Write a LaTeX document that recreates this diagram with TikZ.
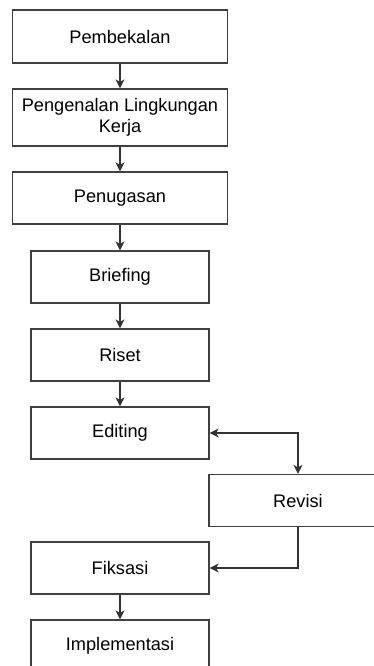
\documentclass[tikz,border=0pt]{standalone}
\usepackage{fontspec}
\setmainfont{Liberation Sans}
\usetikzlibrary{arrows.meta}
\begin{document}
\begin{tikzpicture}[x=1pt,y=-1pt,
  box/.style={draw=black!75, line width=1.2pt, rectangle, inner sep=0pt, align=center,
     font=\fontsize{18.2}{21}\selectfont, text=black},
  wide/.style={box, minimum width=215pt},
  narrow/.style={box, minimum width=178pt},
  tip/.tip={Stealth[length=9pt,width=9pt,inset=2.5pt]},
  conn/.style={draw=black!80, line width=1.2pt, -tip}]
\useasboundingbox (0,0) rectangle (374,666);
\node[wide, minimum height=53pt] (pem) at (120,36.5) {Pembekalan};
\node[wide, minimum height=57pt] (pen) at (120,117.5) {Pengenalan Lingkungan\\Kerja};
\node[wide, minimum height=52pt] (pug) at (120,198) {Penugasan};
\node[narrow, minimum height=52pt] (bri) at (120,277) {Briefing};
\node[narrow, minimum height=52pt] (ris) at (120,355) {Riset};
\node[narrow, minimum height=52pt] (edi) at (120,433) {Editing};
\node[narrow, minimum height=52pt] (rev) at (298,500.5) {Revisi};
\node[narrow, minimum height=52pt] (fik) at (120,568) {Fiksasi};
\node[narrow, minimum height=52pt] (imp) at (120,646) {Implementasi};
\draw[conn] (pem) -- (pen);
\draw[conn] (pen) -- (pug);
\draw[conn] (pug) -- (bri);
\draw[conn] (bri) -- (ris);
\draw[conn] (ris) -- (edi);
\draw[conn, tip-tip] (edi.east) -| (rev.north);
\draw[conn] (rev.south) |- (fik.east);
\draw[conn] (fik) -- (imp);
\end{tikzpicture}
\end{document}
